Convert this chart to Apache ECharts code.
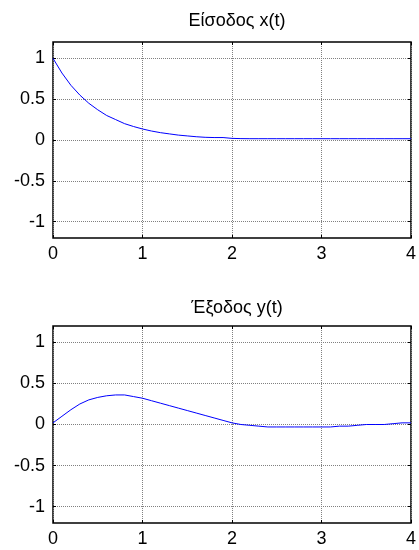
<!DOCTYPE html>
<html><head><meta charset="utf-8">
<script src="https://cdn.jsdelivr.net/npm/echarts@6/dist/echarts.min.js"></script>
<style>html,body{margin:0;padding:0;background:#fff}#c{width:419px;height:550px}</style>
</head><body><div id="c"></div>
<script>
var titles = ['Είσοδος x(t)', 'Έξοδος y(t)'];
var tValues = [0,0.1,0.2,0.3,0.4,0.5,0.6,0.7,0.8,0.9,1.0,1.1,1.2,1.3,1.4,1.5,1.6,1.7,1.8,1.9,2.0,2.1,2.2,2.3,2.4,2.5,2.6,2.7,2.8,2.9,3.0,3.1,3.2,3.3,3.4,3.5,3.6,3.7,3.8,3.9,4.0];
var xValues = [1.0,0.82,0.67,0.55,0.45,0.37,0.30,0.25,0.20,0.165,0.135,0.11,0.09,0.075,0.06,0.05,0.04,0.033,0.03,0.03,0.02,0.017,0.016,0.016,0.016,0.016,0.016,0.016,0.016,0.016,0.016,0.016,0.016,0.016,0.016,0.016,0.016,0.016,0.016,0.016,0.016];
var yValues = [0.02,0.1,0.18,0.25,0.3,0.33,0.35,0.36,0.36,0.34,0.32,0.29,0.26,0.23,0.2,0.17,0.14,0.11,0.08,0.05,0.02,0.0,-0.01,-0.02,-0.03,-0.03,-0.03,-0.03,-0.03,-0.03,-0.03,-0.03,-0.02,-0.02,-0.01,0.0,0.0,0.0,0.01,0.02,0.02];
var xTicks = [0,1,2,3,4];
var yTicks = [-1,-0.5,0,0.5,1];

var font = 'Liberation Sans, Arial, sans-serif';
function pairs(ys){ return tValues.map(function(t,i){ return [t, ys[i]]; }); }
var grids = [
  {left:53, right:7, top:42, height:196, show:true, borderColor:'#000', borderWidth:1.5},
  {left:53, right:7, top:326, height:197, show:true, borderColor:'#000', borderWidth:1.5}
];
var xAxes = [], yAxes = [];
grids.forEach(function(g, gi){
  ['bottom','top'].forEach(function(pos, k){
    xAxes.push({type:'value', gridIndex:gi, position:pos, min:0, max:4, interval:1,
      axisLine:{show:false, onZero:false},
      axisTick:{show:true, inside:true, length:3, lineStyle:{color:'#000'}},
      axisLabel:{show:k===0, color:'#000', fontSize:18, fontFamily:font, margin:7},
      splitLine:{show:k===0, lineStyle:{color:'#808080', type:[1,1], width:1}}
    });
  });
  ['left','right'].forEach(function(pos, k){
    yAxes.push({type:'value', gridIndex:gi, position:pos, min:-1.2, max:1.2,
      axisLine:{show:false, onZero:false},
      axisTick:{show:true, inside:true, length:3, customValues:yTicks, lineStyle:{color:'#000'}},
      axisLabel:{show:k===0, customValues:yTicks, color:'#000', fontSize:18, fontFamily:font, margin:8},
      splitLine:{show:k===0, lineStyle:{color:'#808080', type:[1,1], width:1}}
    });
  });
});
var option = {
  animation:false,
  backgroundColor:'#fff',
  title: [
    {text:titles[0], left:232, top:7, textAlign:'center', textStyle:{fontSize:18, fontWeight:'normal', color:'#000', fontFamily:font}},
    {text:titles[1], left:232, top:294, textAlign:'center', textStyle:{fontSize:18, fontWeight:'normal', color:'#000', fontFamily:font}}
  ],
  grid: grids,
  xAxis: xAxes,
  yAxis: yAxes,
  series: [
    {type:'line', xAxisIndex:0, yAxisIndex:0, data:pairs(xValues), showSymbol:false, lineStyle:{color:'#0000ff', width:1}},
    {type:'line', xAxisIndex:2, yAxisIndex:2, data:pairs(yValues), showSymbol:false, lineStyle:{color:'#0000ff', width:1}}
  ]
};
var chart = echarts.init(document.getElementById('c'), null, {renderer:'canvas'});
chart.setOption(option);
</script></body></html>
